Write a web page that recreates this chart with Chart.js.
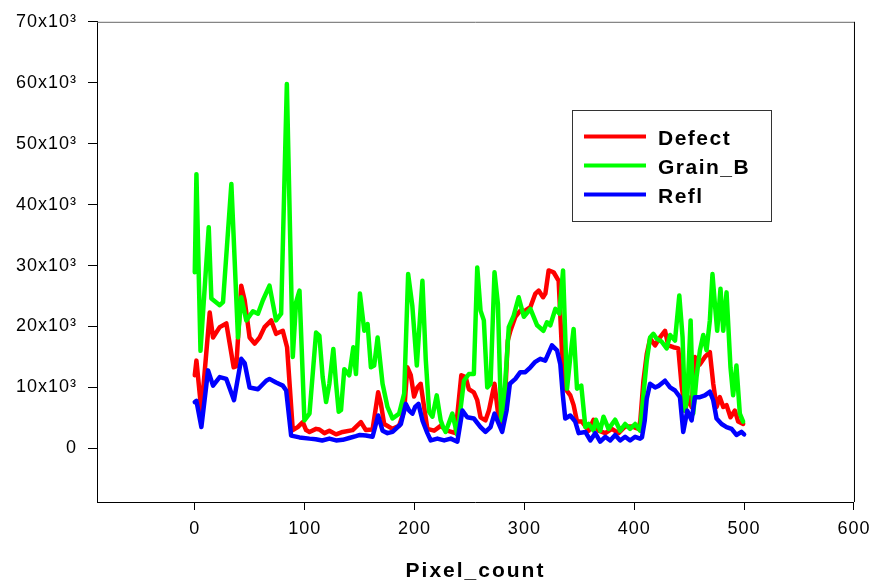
<!DOCTYPE html>
<html>
<head>
<meta charset="utf-8">
<script src="https://cdn.jsdelivr.net/npm/chart.js@4"></script>
<style>
  body { margin: 0; background: #fff; }
  canvas { display: block; }
</style>
</head>
<body>
<canvas id="profileChart" width="877" height="582"></canvas>
<script>
// Values (x = pixel index, y = intensity)
const defectX = [0, 1.5, 6, 13.6, 16.6, 22.7, 28.7, 35.4, 37.8, 42.3, 45.4, 49.9, 54.5, 59, 63.5, 69.6, 74, 80.1, 84, 89.2, 93.7, 98.3, 101.3, 104.4, 110.4, 113.4, 118, 122.5, 128.6, 134.6, 143.7, 151.2, 155.7, 161.8, 166.9, 169.4, 172.4, 180, 186, 190.6, 193.5, 196.6, 199.6, 202.6, 205.6, 208.7, 211.7, 217.8, 223.8, 229.8, 237.3, 242.6, 246.5, 249.5, 254, 257.1, 260.1, 264.6, 267.7, 272.8, 276.8, 279.8, 282.8, 284.9, 287.3, 291.8, 296.3, 300.8, 305.5, 310, 313, 317, 319.1, 322.1, 326.6, 331.2, 334.2, 337.2, 341.8, 344.8, 347.9, 352.4, 358.5, 363, 367.5, 373.6, 379.6, 385.7, 391.7, 397.8, 403.8, 405.5, 408.3, 411.4, 414.4, 419, 422.6, 428, 431, 435.6, 440.1, 443.1, 446.2, 449.2, 452.2, 455.2, 459.8, 464.3, 468.8, 471.9, 474.9, 477.9, 481, 484, 487.6, 491.6, 494.6, 499.1];
const defectY = [12000, 14400, 6200, 22300, 18200, 19900, 20500, 13300, 13500, 26700, 24300, 18200, 17200, 18200, 19900, 21000, 18800, 19300, 16600, 3000, 3500, 4300, 3000, 2700, 3200, 3100, 2500, 2900, 2300, 2700, 3000, 4300, 3000, 3100, 9200, 7300, 4000, 3200, 3700, 6200, 13300, 12000, 8500, 10000, 10600, 6800, 3200, 2900, 3700, 2900, 2500, 12000, 11700, 9700, 9200, 7900, 5100, 4600, 6200, 10600, 4600, 4000, 9800, 17700, 19300, 21600, 22600, 22600, 23200, 25400, 25900, 24800, 25400, 29200, 28900, 27500, 16000, 9800, 8700, 7100, 4400, 4400, 2900, 4700, 2900, 2500, 3200, 2500, 3600, 3600, 3200, 4500, 11000, 15500, 18000, 16900, 18000, 19300, 16900, 16600, 16400, 10300, 6200, 8400, 6800, 15000, 13800, 15000, 15800, 10600, 6800, 8400, 6800, 7100, 5100, 6200, 4400, 4000];

const grainX = [0, 1.5, 5.2, 12.7, 15.1, 22.7, 25.7, 33.3, 39.3, 42.3, 46.9, 52.9, 57.5, 62, 68, 74, 78.6, 83.8, 89.2, 92.2, 95.3, 99.8, 104.4, 110.4, 113.4, 116.4, 119.5, 122.5, 126.1, 128.6, 131, 133.1, 136.1, 140.6, 144.3, 146.7, 150.3, 154.3, 157.3, 160.3, 163.3, 166.4, 170.9, 175.4, 180, 186, 190.6, 194.2, 198, 202.1, 207.2, 210.2, 213.3, 216.3, 220.2, 223.8, 226, 228.3, 234.4, 239, 245, 249.5, 254, 257.1, 260.1, 263.1, 266.2, 269.2, 272.8, 275.9, 278.9, 281.3, 285.8, 290.3, 294.8, 299.5, 305.5, 311.6, 317.3, 320.6, 323.6, 328.2, 331.8, 335.2, 338.8, 341.8, 344.8, 347.9, 351.8, 355.5, 358.5, 363, 365.1, 369, 372, 376.6, 382.6, 387.2, 391.7, 396.2, 400.8, 405.3, 408.3, 411.4, 414.4, 417.4, 420.4, 425, 429.5, 432.6, 437.1, 441, 444, 446.2, 448.3, 451.3, 453.7, 456.7, 459.8, 462.8, 465.8, 468.8, 471.2, 473.4, 475.5, 478.5, 481, 484, 487.6, 490, 493, 496.1, 499.1];
const grainY = [28900, 45000, 16000, 36300, 24600, 23500, 24000, 43400, 18200, 24800, 21000, 22500, 22100, 24300, 26700, 21000, 22100, 59800, 15000, 24000, 25900, 4600, 5700, 19000, 18500, 11700, 7600, 10600, 16300, 10600, 6000, 6300, 13000, 12000, 16600, 12200, 25400, 19300, 20400, 13300, 13600, 18200, 10600, 6800, 4900, 5700, 9000, 28600, 23400, 13600, 27500, 14700, 6000, 5200, 8700, 4600, 3500, 2700, 5700, 2200, 11100, 12200, 12200, 29700, 22600, 21000, 10000, 10600, 28900, 23700, 4600, 7300, 19900, 21800, 24800, 21600, 22900, 20200, 19300, 20700, 20200, 22900, 22100, 29200, 9800, 15000, 19600, 9800, 10300, 3500, 4000, 2900, 4700, 2900, 5200, 3200, 4700, 2900, 4000, 3200, 4000, 2900, 8700, 14400, 18200, 18800, 18000, 17500, 16400, 18600, 17700, 25100, 18200, 6200, 8400, 21000, 5700, 11700, 16100, 18600, 16100, 21000, 28600, 23700, 19300, 26200, 19300, 25600, 13300, 8700, 13600, 5700, 4400];

const reflX = [0, 1.5, 6, 12.1, 16.6, 22.7, 28.7, 35.7, 42.3, 45.4, 49.9, 57.5, 65, 68, 74, 80.1, 83.2, 87.7, 95.3, 104.4, 110, 116, 122.5, 128.6, 134.6, 140.6, 146.7, 150.3, 155.7, 161.8, 166.9, 170.9, 175.4, 180, 187.6, 192.1, 195.1, 198.1, 200.6, 203.6, 207.2, 211.7, 214.8, 220.8, 227, 233, 239, 243.6, 248, 254, 260.1, 264.6, 269.2, 272.8, 276.8, 279.8, 283.8, 286.8, 291.8, 296.3, 300.8, 305.5, 309.9, 314.4, 319, 325.1, 329.7, 332.7, 335, 337.2, 341.8, 346.3, 349.4, 355.5, 360, 364.5, 369, 373.6, 378.1, 382.6, 387.2, 391.7, 396.2, 400.8, 405.3, 407, 409.5, 411.4, 414.4, 419, 422.6, 428, 432.6, 437.1, 441.6, 444.6, 448.3, 452.2, 455.2, 459.8, 464.3, 468.8, 471.9, 474.9, 479.5, 484, 488.6, 493, 497.6, 500];
const reflY = [7600, 7800, 3500, 12800, 10300, 11700, 11400, 7900, 14700, 14000, 10000, 9700, 11100, 11400, 10800, 10300, 9500, 2100, 1800, 1600, 1500, 1300, 1600, 1300, 1400, 1700, 2000, 2200, 2100, 1900, 5400, 2900, 2500, 2700, 4000, 7300, 6200, 5700, 6800, 7300, 4600, 2500, 1300, 1600, 1300, 1600, 1100, 6200, 5100, 4900, 3500, 2700, 3500, 5700, 4000, 2700, 6200, 10600, 11400, 12500, 12500, 13300, 14200, 14700, 14400, 16900, 16100, 13800, 8700, 4900, 5400, 4400, 2500, 2700, 1300, 2500, 1100, 1900, 1300, 2200, 1300, 1900, 1300, 1900, 1600, 1800, 4500, 8200, 10600, 10000, 10300, 11100, 10000, 9500, 8400, 2700, 6200, 4600, 8400, 8400, 8700, 9300, 7900, 4900, 4000, 3500, 3200, 2200, 2700, 2300];

const seriesNames = ['Defect', 'Grain_B', 'Refl'];
const seriesColors = ['#ff0000', '#00ff00', '#0000ff'];

const xTicks = [0, 100, 200, 300, 400, 500, 600];
const yTicks = [0, 10000, 20000, 30000, 40000, 50000, 60000, 70000];
const xTitle = 'Pixel_count';

function toPoints(xs, ys) {
    return xs.map((x, i) => ({ x: x, y: ys[i] }));
}

// frame lines on top/right, axis title and boxed legend
const decorPlugin = {
    id: 'decor',
    beforeDraw(chart) {
        chart.ctx.letterSpacing = '1px';
    },
    afterDraw(chart) {
        const ctx = chart.ctx;
        const a = chart.chartArea;
        ctx.save();
        ctx.lineWidth = 1;
        ctx.strokeStyle = '#666';
        ctx.beginPath();
        ctx.moveTo(a.left, a.top + 0.5);
        ctx.lineTo(a.right, a.top + 0.5);
        ctx.stroke();
        ctx.strokeStyle = '#000';
        ctx.beginPath();
        ctx.moveTo(a.right + 0.5, a.top);
        ctx.lineTo(a.right + 0.5, a.bottom);
        ctx.stroke();

        // x axis title
        ctx.fillStyle = '#000';
        ctx.letterSpacing = '2px';
        ctx.font = 'bold 21px "Liberation Sans", Arial, sans-serif';
        ctx.textAlign = 'center';
        ctx.textBaseline = 'alphabetic';
        ctx.fillText(xTitle, (a.left + a.right) / 2, 577);

        // legend box
        ctx.strokeStyle = '#333';
        ctx.strokeRect(572.5, 110.5, 199, 111);
        const rows = [136.5, 165.5, 194.5];
        ctx.textAlign = 'left';
        ctx.letterSpacing = '1.5px';
        ctx.font = 'bold 21px "Liberation Sans", Arial, sans-serif';
        seriesNames.forEach((name, i) => {
            ctx.strokeStyle = seriesColors[i];
            ctx.lineWidth = 4;
            ctx.beginPath();
            ctx.moveTo(584, rows[i]);
            ctx.lineTo(646, rows[i]);
            ctx.stroke();
            ctx.fillStyle = '#000';
            ctx.fillText(name, 658, rows[i] + 8);
        });
        ctx.restore();
        ctx.letterSpacing = '0px';
    }
};

const ctx = document.getElementById('profileChart').getContext('2d');
const profileChart = new Chart(ctx, {
    type: 'line',
    data: {
        datasets: [
            { label: seriesNames[0], data: toPoints(defectX, defectY), borderColor: seriesColors[0], order: 2 },
            { label: seriesNames[1], data: toPoints(grainX, grainY), borderColor: seriesColors[1], order: 1 },
            { label: seriesNames[2], data: toPoints(reflX, reflY), borderColor: seriesColors[2], order: 0 }
        ]
    },
    options: {
        responsive: false,
        animation: false,
        events: [],
        layout: { padding: { top: 21, right: 21, left: 0, bottom: 0 } },
        elements: {
            point: { radius: 0 },
            line: { borderWidth: 4.5, tension: 0, borderJoinStyle: 'round', borderCapStyle: 'round' }
        },
        plugins: {
            legend: { display: false },
            tooltip: { enabled: false }
        },
        scales: {
            x: {
                type: 'linear',
                min: -89,
                max: 600,
                afterBuildTicks: scale => { scale.ticks = xTicks.map(v => ({ value: v })); },
                afterFit: scale => { scale.height = 80; },
                grid: { drawOnChartArea: false, drawTicks: true, tickLength: 8, color: '#000' },
                border: { display: true, color: '#000', width: 1 },
                ticks: {
                    color: '#000',
                    padding: 8,
                    maxRotation: 0,
                    font: { family: '"Liberation Sans", Arial, sans-serif', size: 18 }
                }
            },
            y: {
                min: -8800,
                max: 70000,
                afterBuildTicks: scale => { scale.ticks = yTicks.map(v => ({ value: v })); },
                afterFit: scale => { scale.width = 97; },
                grid: { drawOnChartArea: false, drawTicks: true, tickLength: 9, color: '#000' },
                border: { display: true, color: '#000', width: 1 },
                ticks: {
                    color: '#000',
                    padding: 11,
                    font: { family: '"Liberation Sans", Arial, sans-serif', size: 18 },
                    callback: v => v === 0 ? '0' : (v / 1000) + 'x10\u00b3'
                }
            }
        }
    },
    plugins: [decorPlugin]
});
</script>
</body>
</html>
